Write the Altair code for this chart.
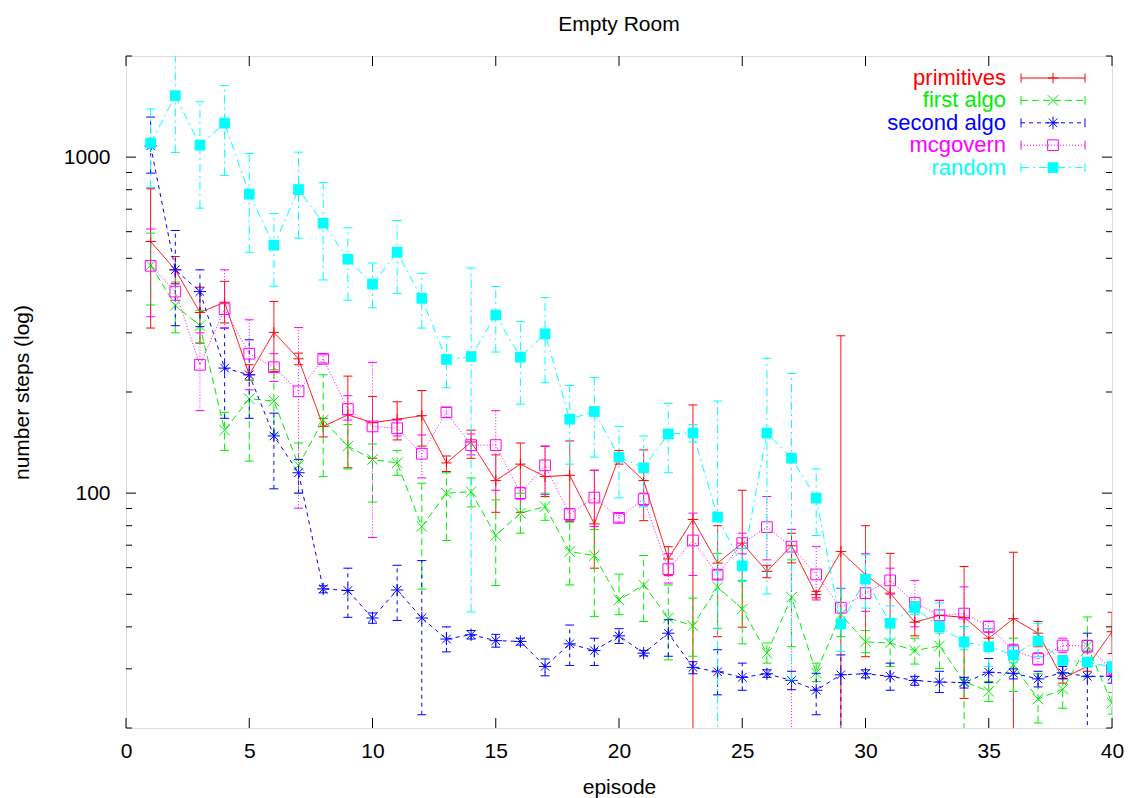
import altair as alt
import pandas as pd

# ---------------- data ----------------
episodes = list(range(1, 41))
series_names = ["primitives", "first algo", "second algo", "mcgovern", "random"]

prim_val = [561, 462, 345, 370, 225, 301, 251, 158, 171, 162, 166, 170, 123, 142, 109, 122, 112, 113, 81, 128,
            109, 63.7, 83.5, 61.9, 71, 58.5, 69.7, 49.9, 67, 57.2, 50.4, 41.3, 43.3, 42.7, 37.0, 42.3, 38.3, 28.1, 30.5, 38.7]
prim_hi = [805, 506, 410, 427, 241, 372, 261, 167, 223, 194, 187, 202, 129, 154, 130, 141, 138, 143, 117, 134,
           134.5, 69.3, 183, 80, 102, 61, 76, 51, 294, 80, 66.2, 47.5, 47.9, 60.5, 39.5, 66.7, 41.5, 29, 31.5, 44.2]
prim_lo = [310, 420, 279.5, 321, 217, 230, 241, 147, 119, 127, 144, 138, 116, 127, 87.7, 87.7, 97.7, 82.3, 59.8, 122,
           82.8, 56.8, 10, 37.4, 39.9, 56, 62, 48.8, 10, 32.6, 42, 37.6, 38.7, 24.5, 35, 10, 34.9, 27.2, 29.5, 33.3]

first_val = [477, 362, 315, 154, 191, 188, 121, 165, 138, 126, 123, 79.6, 100, 101, 74.8, 87.2, 91.2, 67, 65.2, 48.1,
             53.3, 42.5, 40.3, 52.5, 45.2, 33.4, 49, 29.2, 43.5, 36.1, 35.8, 34.0, 35.1, 27.5, 25.7, 30.8, 24.4, 26.1, 35.1, 23.7]
first_hi = [594, 425, 350, 174, 217, 233, 141, 225, 160, 140, 134, 107, 115, 111, 95.5, 100, 100, 82, 78, 57.4,
            65.2, 53.3, 48.7, 66.2, 55, 35.8, 63.3, 31.2, 52, 39, 42, 37, 40, 40.1, 27.5, 37, 29, 29.1, 42.8, 25.5]
first_lo = [363, 300, 280, 134, 124.5, 150, 100, 112, 118, 94, 113, 51.8, 72.3, 91, 53.1, 76, 83, 53.3, 42.9, 43.5,
            41.5, 31.9, 32.7, 39.6, 35.6, 31.2, 34.9, 27.5, 37.4, 33.5, 30.5, 31, 30.1, 10, 24, 25.7, 20.7, 22.9, 28.4, 22]

second_val = [1080, 462, 398, 235.6, 225, 148, 115, 51.9, 51.3, 42.5, 51.5, 42.5, 36.8, 37.9, 36.4, 36.2, 30.5, 35.6, 34.0, 37.6,
              33.4, 38.3, 30.3, 29.4, 28.3, 29.0, 27.7, 25.9, 28.8, 29.0, 28.5, 27.7, 27.4, 27.3, 29.3, 29.1, 28.0, 29.2, 28.5, 28.5]
second_hi = [1316, 605, 462, 310, 286, 173, 126, 53, 59.8, 44, 61, 63, 40, 39, 38, 37, 32.1, 40.5, 37, 39.5,
             34, 42, 31.5, 34.2, 31.2, 29.8, 29.5, 29.1, 33, 29.8, 31.2, 28.5, 29.5, 28.3, 32.2, 30, 29.5, 30.5, 38.3, 29.8]
second_lo = [896, 315, 313, 167, 167, 103, 100, 50.5, 42.7, 41, 41.8, 21.9, 33.7, 36.8, 34.8, 35.3, 28.6, 30.7, 30.7, 35.7,
             32.8, 32.7, 29, 25.1, 25.9, 28.3, 26, 21.9, 10, 28.2, 25.9, 26.8, 25.5, 26.3, 27.3, 28, 26.5, 28, 10, 27.2]

mcg_val = [475, 398, 241, 353, 260, 237, 201, 251, 178, 158, 156, 131, 174, 139, 139, 100, 121, 86.6, 97, 84.4,
           96, 59.4, 72.3, 57.2, 71, 79.2, 69.3, 57.3, 45.6, 50.4, 55.0, 47.1, 43.3, 43.8, 40.1, 34, 32.1, 35.2, 35.1, 29.8]
mcg_hi = [611, 420, 300, 462, 328, 260, 311, 258, 195, 245, 165, 149, 180, 150, 176, 104, 138, 90, 117, 87,
          100, 66, 87.2, 59, 76, 97.7, 78, 69.3, 52, 66, 59.8, 55, 48, 52.6, 41.5, 35.5, 33.5, 37, 36.5, 31]
mcg_lo = [335, 375, 176, 310, 203, 215, 90.2, 244, 165, 73.8, 148, 111, 168, 130, 102, 96, 99, 83, 79.6, 82,
          92, 54, 56.9, 55.5, 66, 63.3, 10, 48.1, 40, 44.5, 50, 40, 39, 35.5, 38.5, 32.5, 30.8, 33.5, 33.5, 28.7]

rand_val = [1101, 1524, 1086, 1262, 776, 547, 801, 636, 497, 419, 521, 380, 250, 255, 339, 254, 298, 166, 175, 128,
            119, 150, 151, 84.9, 60.7, 151, 127, 96.6, 40.8, 55.5, 41.0, 45.6, 40.1, 36.1, 34.9, 33.0, 36.3, 31.8, 31.4, 30.4]
rand_hi = [1392, 2100, 1461, 1633, 1025, 679, 1035, 840, 616, 484, 648, 451, 292, 468, 412, 324, 382, 209, 221, 158,
           148, 185, 160, 188, 68.5, 252, 227, 118, 52.2, 65.5, 46.2, 47.6, 47.1, 40.1, 39.6, 34.9, 41, 32.5, 32.2, 31.5]
rand_lo = [812, 1032, 705, 882, 521, 413, 574, 431, 375, 356, 393, 310, 206, 44.3, 263, 184, 213, 122, 128, 96.8,
           91, 115, 142, 10, 54.6, 50.1, 27.8, 74.8, 33.8, 45.5, 36.6, 43.5, 38.3, 34.2, 30.5, 31.3, 32.6, 31, 30.5, 29.3]

x_tick_values = [0, 5, 10, 15, 20, 25, 30, 35, 40]
y_major_ticks = [100, 1000]
y_minor_ticks = [20, 30, 40, 50, 60, 70, 80, 90, 200, 300, 400, 500, 600, 700, 800, 900, 2000]

# ---------------- styling ----------------
W, H = 986, 672
FONT = "Liberation Sans"
FS = 21

styles = [
    dict(name="primitives", val=prim_val, lo=prim_lo, hi=prim_hi, color="#ff0000", dash=[1, 0],
         shape="M-1,0L1,0M0,-1L0,1", filled=False, size=110),
    dict(name="first algo", val=first_val, lo=first_lo, hi=first_hi, color="#00ee00", dash=[7, 4],
         shape="M-1,-1L1,1M-1,1L1,-1", filled=False, size=110),
    dict(name="second algo", val=second_val, lo=second_lo, hi=second_hi, color="#0000ff", dash=[4, 4],
         shape="M-1,0L1,0M0,-1L0,1M-0.7,-0.7L0.7,0.7M-0.7,0.7L0.7,-0.7", filled=False, size=150),
    dict(name="mcgovern", val=mcg_val, lo=mcg_lo, hi=mcg_hi, color="#ff00ff", dash=[1, 2],
         shape="square", filled=False, size=115),
    dict(name="random", val=rand_val, lo=rand_lo, hi=rand_hi, color="#00ffff", dash=[8, 4, 2, 4],
         shape="square", filled=True, size=115),
]

x_scale = alt.Scale(domain=[0, 40], nice=False, zero=False)
y_scale = alt.Scale(type="log", domain=[20, 2000], nice=False)

x_axis = alt.Axis(values=x_tick_values, ticks=False, tickSize=0, domain=False, grid=False,
                  labelFont=FONT, labelFontSize=FS, labelColor="black", labelBaseline="alphabetic",
                  labelPadding=29, labelFlush=False,
                  title="episode", titleFont=FONT, titleFontSize=FS, titleFontWeight="normal",
                  titleColor="black", titleX=493, titleY=65, titleBaseline="alphabetic", titleAlign="center")
y_axis = alt.Axis(values=y_major_ticks, format="d", ticks=False, tickSize=0, domain=False, grid=False,
                  labelFont=FONT, labelFontSize=FS, labelColor="black", labelPadding=16,
                  title="number steps (log)", titleFont=FONT, titleFontSize=FS, titleFontWeight="normal",
                  titleColor="black", titleAngle=270, titleX=-98, titleY=336,
                  titleBaseline="alphabetic", titleAlign="center")


def X(field):
    return alt.X(field, type="quantitative", scale=x_scale, axis=x_axis)


def Y(field):
    return alt.Y(field, type="quantitative", scale=y_scale, axis=y_axis)


layers = []

# frame ticks (inward, gnuplot style), placed through the scales
ydf_major = pd.DataFrame({"v": y_major_ticks})
ydf_minor = pd.DataFrame({"v": y_minor_ticks})
xdf = pd.DataFrame({"v": x_tick_values})
for df, ln in ((ydf_major, 10), (ydf_minor, 6)):
    layers.append(alt.Chart(df).mark_rule(color="black", strokeWidth=1).encode(
        y=Y("v"), x=alt.value(0), x2=alt.value(ln)))
    layers.append(alt.Chart(df).mark_rule(color="black", strokeWidth=1).encode(
        y=Y("v"), x=alt.value(W), x2=alt.value(W - ln)))
layers.append(alt.Chart(xdf).mark_rule(color="black", strokeWidth=1).encode(
    x=X("v"), y=alt.value(H), y2=alt.value(H - 10)))
layers.append(alt.Chart(xdf).mark_rule(color="black", strokeWidth=1).encode(
    x=X("v"), y=alt.value(0), y2=alt.value(10)))

# data series
for s in styles:
    df = pd.DataFrame({"episode": episodes, "val": s["val"], "lo": s["lo"], "hi": s["hi"]})
    base = alt.Chart(df)
    c = s["color"]
    layers.append(base.mark_rule(color=c, strokeWidth=1, strokeDash=s["dash"], clip=True).encode(
        x=X("episode"), y=Y("lo"), y2=alt.Y2("hi")))
    for end in ("lo", "hi"):
        layers.append(base.mark_rule(color=c, strokeWidth=1, xOffset=-4.5, x2Offset=4.5, clip=True).encode(
            x=X("episode"), x2=alt.X2("episode"), y=Y(end)))
    layers.append(base.mark_line(color=c, strokeWidth=1, strokeDash=s["dash"], clip=True).encode(
        x=X("episode"), y=Y("val")))
    layers.append(base.mark_point(shape=s["shape"], filled=s["filled"], size=s["size"], color=c,
                                  strokeWidth=1, opacity=1, clip=True).encode(
        x=X("episode"), y=Y("val")))

# key (inside the plot, top right, gnuplot style)
for i, s in enumerate(styles):
    yy = 22 + 22.4 * i
    c = s["color"]
    one = alt.Chart(pd.DataFrame({"series": [s["name"]]}))
    layers.append(one.mark_text(align="right", baseline="middle", font=FONT, fontSize=22, color=c).encode(
        text="series:N", x=alt.value(880), y=alt.value(yy)))
    layers.append(one.mark_rule(color=c, strokeWidth=1, strokeDash=s["dash"]).encode(
        x=alt.value(895), x2=alt.value(959), y=alt.value(yy)))
    for xx in (895, 959):
        layers.append(one.mark_rule(color=c, strokeWidth=1).encode(
            x=alt.value(xx), y=alt.value(yy - 4.5), y2=alt.value(yy + 4.5)))
    layers.append(one.mark_point(shape=s["shape"], filled=s["filled"], size=s["size"], color=c,
                                 strokeWidth=1, opacity=1).encode(
        x=alt.value(927), y=alt.value(yy)))

chart = alt.layer(*layers).properties(
    width=W, height=H,
    title=alt.TitleParams("Empty Room", font=FONT, fontSize=FS, fontWeight="normal", color="black",
                          anchor="middle", baseline="alphabetic", offset=4),
    autosize=alt.AutoSizeParams(type="none"),
    padding={"left": 126, "top": 56, "right": 19, "bottom": 70},
).configure_view(stroke="black", strokeWidth=1.3).configure(background="white")

chart.save("out.html", embed_options={"renderer": "svg", "actions": False})
